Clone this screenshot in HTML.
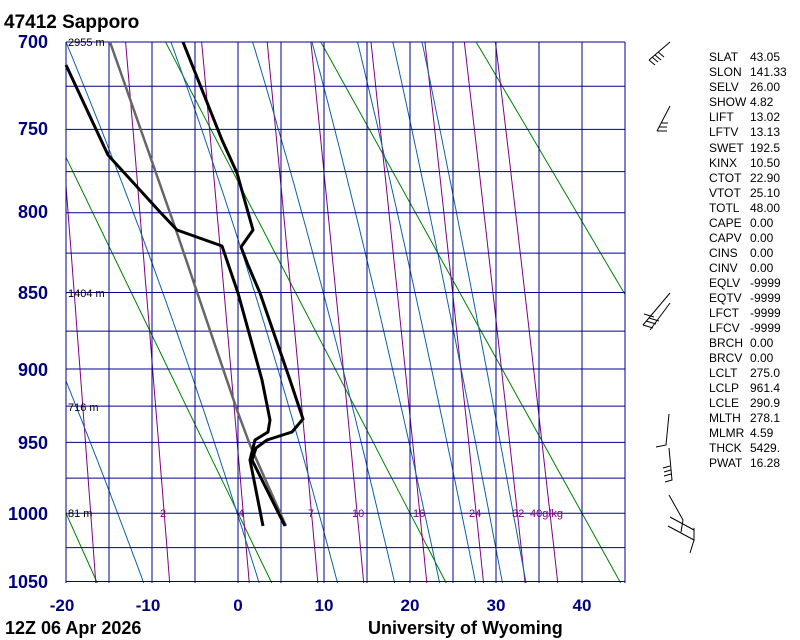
<!DOCTYPE html>
<html><head><meta charset="utf-8"><style>
html,body{margin:0;padding:0;background:#fff;width:800px;height:640px;overflow:hidden}
svg{position:absolute;left:0;top:0}
.t{font-family:"Liberation Sans",sans-serif}
</style></head><body>
<svg id="s" width="800" height="640" viewBox="0 0 800 640" xmlns="http://www.w3.org/2000/svg">
<g id="bg"></g>
<g class="t" font-weight="bold" font-size="18" fill="#000">
<text x="4" y="28" font-size="19">47412  Sapporo</text>
<text x="5" y="634">12Z 06 Apr 2026</text>
<text x="368" y="634">University of Wyoming</text>
</g>
<g class="t" font-weight="bold" font-size="18" fill="#000080" text-anchor="end">
<text x="48" y="48">700</text><text x="48" y="135">750</text><text x="48" y="218">800</text>
<text x="48" y="299">850</text><text x="48" y="376">900</text><text x="48" y="449">950</text>
<text x="48" y="520">1000</text><text x="48" y="588">1050</text>
</g>
<g class="t" font-weight="bold" font-size="17" fill="#000080" text-anchor="middle">
<text x="62" y="611">-20</text><text x="148" y="611">-10</text><text x="238" y="611">0</text>
<text x="324" y="611">10</text><text x="410" y="611">20</text><text x="496" y="611">30</text><text x="582" y="611">40</text>
</g>
<g class="t" font-size="11" fill="#000">
<text x="68" y="46">2955 m</text><text x="68" y="297">1404 m</text><text x="68" y="411">716 m</text><text x="68" y="517">81 m</text>
</g>
<g class="t" font-size="11" fill="#800080">
<text x="160" y="517">2</text><text x="238" y="517">4</text><text x="308" y="517">7</text><text x="352" y="517">10</text>
<text x="413" y="517">16</text><text x="469" y="517">24</text><text x="512" y="517">32</text><text x="530" y="517">40g/kg</text>
</g>
<g class="t" font-size="12" fill="#000">
<text x="709" y="61">SLAT</text><text x="750" y="61">43.05</text>
<text x="709" y="76">SLON</text><text x="750" y="76">141.33</text>
<text x="709" y="91">SELV</text><text x="750" y="91">26.00</text>
<text x="709" y="106">SHOW</text><text x="750" y="106">4.82</text>
<text x="709" y="121">LIFT</text><text x="750" y="121">13.02</text>
<text x="709" y="136">LFTV</text><text x="750" y="136">13.13</text>
<text x="709" y="152">SWET</text><text x="750" y="152">192.5</text>
<text x="709" y="167">KINX</text><text x="750" y="167">10.50</text>
<text x="709" y="182">CTOT</text><text x="750" y="182">22.90</text>
<text x="709" y="197">VTOT</text><text x="750" y="197">25.10</text>
<text x="709" y="212">TOTL</text><text x="750" y="212">48.00</text>
<text x="709" y="227">CAPE</text><text x="750" y="227">0.00</text>
<text x="709" y="242">CAPV</text><text x="750" y="242">0.00</text>
<text x="709" y="257">CINS</text><text x="750" y="257">0.00</text>
<text x="709" y="272">CINV</text><text x="750" y="272">0.00</text>
<text x="709" y="287">EQLV</text><text x="750" y="287">-9999</text>
<text x="709" y="302">EQTV</text><text x="750" y="302">-9999</text>
<text x="709" y="317">LFCT</text><text x="750" y="317">-9999</text>
<text x="709" y="332">LFCV</text><text x="750" y="332">-9999</text>
<text x="709" y="347">BRCH</text><text x="750" y="347">0.00</text>
<text x="709" y="362">BRCV</text><text x="750" y="362">0.00</text>
<text x="709" y="377">LCLT</text><text x="750" y="377">275.0</text>
<text x="709" y="392">LCLP</text><text x="750" y="392">961.4</text>
<text x="709" y="407">LCLE</text><text x="750" y="407">290.9</text>
<text x="709" y="422">MLTH</text><text x="750" y="422">278.1</text>
<text x="709" y="437">MLMR</text><text x="750" y="437">4.59</text>
<text x="709" y="452">THCK</text><text x="750" y="452">5429.</text>
<text x="709" y="467">PWAT</text><text x="750" y="467">16.28</text>
</g>
<g stroke="#000" stroke-width="1" fill="none">
<path d="M670,42 L649,60 M649,60 l6,5 M652,57 l6,5 M655,55 l6,5 M658,52 l6,5"/>
<path d="M670,106 L657,131 M657,131 l10,0 M659,127 l8,0 M661,123 l7,0"/>
<path d="M670,293 L643,325 M670,303 L650,330 M643,325 l10,3 M646,321 l10,3 M649,318 l10,3 M644,314 l10,3"/>
<path d="M669,414 L666,445 L656,447"/>
<path d="M669,448 L672,480 L665,482 M671,474 l-7,2 M671,470 l-7,2 M670,466 l-7,2"/>
<path d="M669,495 L683,520 M670,517 l24,13 M668,526 l26,14 L694,528 M694,540 l-4,13 M683,520 l-2,12"/>
</g>
<g id="prof" fill="none" stroke-linejoin="round">
<polyline stroke="#666" stroke-width="2.5" points="110,42 176,230 237,410 250,445 286,526"/>
<polyline stroke="#000" stroke-width="3" points="183,42 222,140 237,173 253,230 241,247 248,265 260,293 290,380 303,419 292,432 267,440 256,448 252,460 285,526"/>
<polyline stroke="#000" stroke-width="3" points="66,65 108,155 160,212 177,230 222,246 238,293 262,380 270,420 268,432 255,440 252,452 250,460 263,526"/>
</g>
</svg>
<script>
(function(){
var bg=document.getElementById("bg");
var L=66;
function X(t){return L+(t+20)*8.6;}
var k0=Math.pow(700,0.286);
function Y(p){return 42+673.8*(Math.pow(p,0.286)-k0);}
var s='<clipPath id="c"><rect x="66" y="42" width="559" height="541"/></clipPath><g clip-path="url(#c)">';
function pl(pts,col,w){s+='<polyline fill="none" stroke="'+col+'" stroke-width="'+(w||1)+'" points="'+pts.map(function(a){return a[0].toFixed(1)+","+a[1].toFixed(1)}).join(" ")+'"/>';}
for(var th=-60;th<=140;th+=20){var pts=[];for(var p=690;p<=1060;p+=10){pts.push([X((th+273.15)*Math.pow(p/1000,0.286)-273.15),Y(p)]);}pl(pts,"#008000");}
function td(e){var l=Math.log(e/6.112);return 243.5*l/(17.67-l);}
[1,2,4,7,10,16,24,32,40].forEach(function(w){var pts=[];for(var p=690;p<=1060;p+=10){var e=w*p/(622+w);pts.push([X(td(e)),Y(p)]);}pl(pts,"#800080");});
function es(t){return 6.112*Math.exp(17.67*t/(t+243.5));}
function dT(T,p){var t=T-273.15,e=es(t),rs=0.622*e/(p-e),Lv=2.5e6,Rd=287,cp=1004;return (Rd*T+Lv*rs)/(cp+Lv*Lv*rs*0.622/(Rd*T*T))/p;}
var Y0=Y(1000),Y7=Y(700);
[[-14,null],[-0.1,-20],[9.4,-7.8],[16.3,1.7],[21.7,8.6],[26,13.9],[29.2,18],[32,21.4]].forEach(function(q){
 var tw=q[0],arr=[],T0=tw+273.15,T1=T0,p;
 for(p=1000;p>=700;p-=2){arr.push([p,T1-273.15]);T1-=dT(T1,p)*2;}
 var t700=arr[arr.length-1][1];
 var corr=q[1]===null?0:q[1]-t700;
 var up=arr.map(function(a){var f=(Y(a[0])-Y0)/(Y7-Y0);return [X(a[1]+corr*f),Y(a[0])];});
 var dn=[];T1=T0;for(p=1000;p<=1060;p+=2){T1+=dT(T1,p)*2;dn.push([X(T1-273.15),Y(p+2)]);}
 pl(up.reverse().concat(dn),"#1060a0");});
s+='</g>';
for(var i=0;i<=13;i++){var x=L+43*i;s+='<line x1="'+x+'" y1="42" x2="'+x+'" y2="583" stroke="#000090"/>';}
for(var p=700;p<=1050;p+=25){var y=Y(p).toFixed(1);s+='<line x1="66" y1="'+y+'" x2="625" y2="'+y+'" stroke="#000090"/>';}
bg.innerHTML=s;
})();
</script>
</body></html>
